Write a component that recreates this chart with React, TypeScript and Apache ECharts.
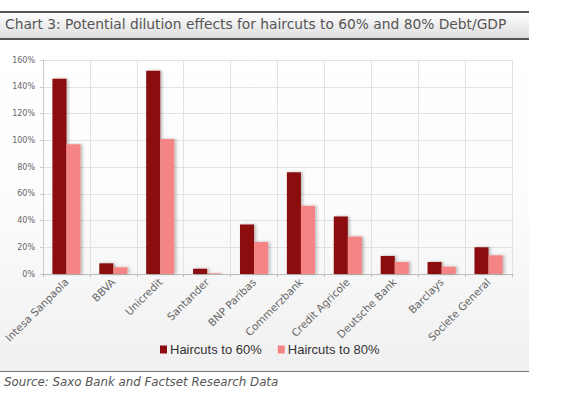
import React, { useEffect, useRef } from "react";
import * as echarts from "echarts";

const categories = [
  "Intesa Sanpaola",
  "BBVA",
  "Unicredit",
  "Santander",
  "BNP Paribas",
  "Commerzbank",
  "Credit Agricole",
  "Deutsche Bank",
  "Barclays",
  "Societe General",
];
const haircut60 = [146, 8, 152, 4, 37, 76, 43, 13.5, 9, 20];
const haircut80 = [97, 5, 101, 0.5, 24, 51, 28, 9, 5.5, 14];
const seriesNames = ["Haircuts to 60%", "Haircuts to 80%"];
const titleText = "Chart 3: Potential dilution effects for haircuts to 60% and 80% Debt/GDP";
const sourceText = "Source: Saxo Bank and Factset Research Data";

export default function App() {
  const ref = useRef<HTMLDivElement>(null);
  useEffect(() => {
    if (!ref.current) return;
    const chart = echarts.init(ref.current, null, { renderer: "svg" });
    const shadow = {
      shadowBlur: 3,
      shadowOffsetX: 2,
      shadowOffsetY: 0,
      shadowColor: "rgba(0,0,0,0.25)",
    };
    chart.setOption({
      animation: false,
      backgroundColor: "#ffffff",
      textStyle: { fontFamily: "DejaVu Sans" },
      graphic: [
        {
          type: "rect",
          z: -10,
          silent: true,
          shape: { x: 0, y: 41, width: 529, height: 330 },
          style: {
            fill: new echarts.graphic.LinearGradient(0, 0, 0, 1, [
              { offset: 0, color: "#ffffff" },
              { offset: 0.5, color: "#fcfcfc" },
              { offset: 1, color: "#f0f0f0" },
            ]),
          },
        },
        {
          type: "rect",
          z: -5,
          silent: true,
          shape: { x: 0, y: 12, width: 529, height: 27 },
          style: {
            fill: new echarts.graphic.LinearGradient(0, 0, 0, 1, [
              { offset: 0, color: "#ffffff" },
              { offset: 1, color: "#dcdcdc" },
            ]),
          },
        },
        {
          type: "line",
          silent: true,
          shape: { x1: 0, y1: 12, x2: 529, y2: 12 },
          style: { stroke: "#555555", lineWidth: 2 },
        },
        {
          type: "line",
          silent: true,
          shape: { x1: 0, y1: 39, x2: 529, y2: 39 },
          style: { stroke: "#555555", lineWidth: 2 },
        },
        {
          type: "line",
          silent: true,
          shape: { x1: 0, y1: 371.5, x2: 529, y2: 371.5 },
          style: { stroke: "#777777", lineWidth: 1 },
        },
        {
          type: "text",
          silent: true,
          x: 5,
          y: 17,
          style: {
            text: titleText,
            fill: "#555555",
            font: "13.8px DejaVu Sans",
          },
        },
        {
          type: "text",
          silent: true,
          x: 4,
          y: 376,
          style: {
            text: sourceText,
            fill: "#555555",
            font: "italic 11.8px DejaVu Sans",
          },
        },
      ],
      legend: {
        data: seriesNames,
        left: 155,
        top: 338,
        icon: "rect",
        itemWidth: 7,
        itemHeight: 8,
        itemGap: 16,
        textStyle: {
          fontSize: 13,
          fontFamily: "Liberation Sans",
          color: "#333333",
          padding: [0, 0, 0, -2],
        },
      },
      grid: { left: 43, right: 67, top: 60, bottom: 123, containLabel: false },
      xAxis: {
        type: "category",
        data: categories,
        axisLine: { lineStyle: { color: "#bbbbbb" } },
        axisTick: { show: true, length: 3, lineStyle: { color: "#bbbbbb" } },
        splitLine: { show: true, lineStyle: { color: "#e2e2e2" } },
        axisLabel: {
          rotate: 45,
          interval: 0,
          fontSize: 10.5,
          color: "#666666",
          margin: 6,
        },
      },
      yAxis: {
        type: "value",
        min: 0,
        max: 160,
        interval: 20,
        axisLine: { show: true, lineStyle: { color: "#cccccc" } },
        axisTick: { show: true, length: 3, lineStyle: { color: "#cccccc" } },
        splitLine: { lineStyle: { color: "#e2e2e2" } },
        axisLabel: {
          formatter: "{value}%",
          fontSize: 8,
          color: "#666666",
          margin: 8,
        },
      },
      series: [
        {
          name: seriesNames[0],
          type: "bar",
          data: haircut60,
          barGap: "0%",
          barCategoryGap: "40%",
          itemStyle: { color: "#8b0d10", ...shadow },
        },
        {
          name: seriesNames[1],
          type: "bar",
          data: haircut80,
          barGap: "0%",
          barCategoryGap: "40%",
          itemStyle: { color: "#f58585", ...shadow },
        },
      ],
    });
    return () => chart.dispose();
  }, []);
  return (
    <div
      ref={ref}
      style={{ position: "fixed", left: 0, top: 0, width: 579, height: 397 }}
    />
  );
}
